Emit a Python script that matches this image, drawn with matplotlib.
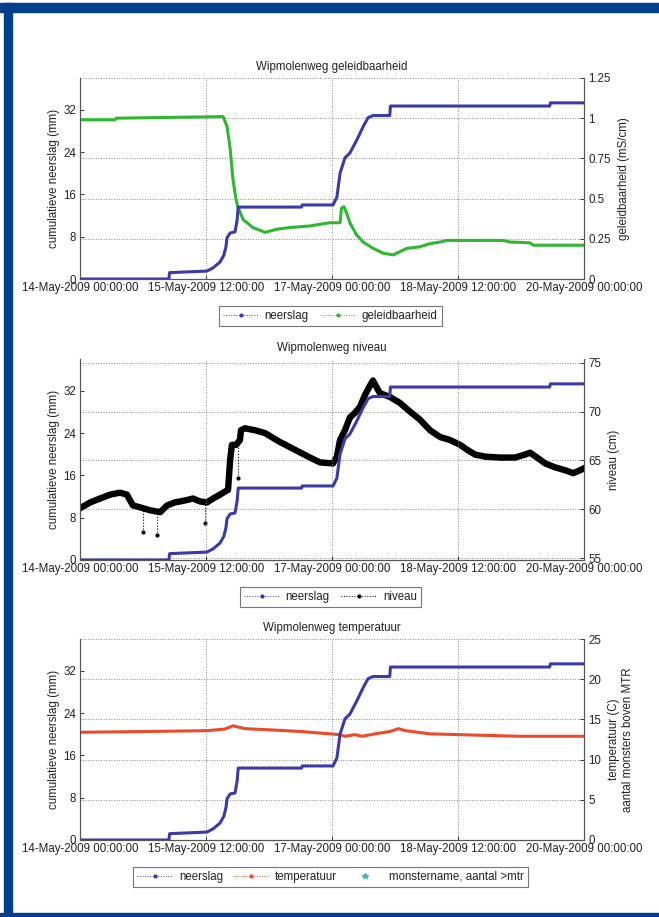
import numpy as np
import pandas as pd
import matplotlib
matplotlib.use('Agg')
import matplotlib.pyplot as plt
import matplotlib.dates as mdates
from matplotlib.lines import Line2D
from matplotlib.patches import Rectangle

FS = 8.3
plt.rcParams['font.family'] = ['Liberation Sans', 'DejaVu Sans']
plt.rcParams['font.size'] = FS
plt.rcParams['text.color'] = '#222222'
plt.rcParams['axes.labelcolor'] = '#222222'

# ---- data (hours after 14-May-2009 00:00:00) ----
rain_h = [0, 25.4, 25.6, 36.3, 38.0, 40.0, 41.1, 41.7, 42.0, 42.9, 44.3, 44.9, 45.2,
          63.3, 63.5, 72.3, 73.4, 74.3, 75.7, 77.1, 79.1, 80.9, 82.3, 83.7, 88.5,
          88.7, 134.2, 134.4, 144]
rain_mm = [0, 0, 1.2, 1.5, 2.1, 3.2, 4.5, 6.1, 7.8, 8.7, 8.9, 11.2, 13.6,
           13.6, 14.0, 14.0, 15.5, 20.0, 22.9, 23.8, 26.3, 28.8, 30.5, 30.9, 30.9,
           32.7, 32.7, 33.3, 33.3]

cond_h = [0, 10.0, 10.3, 40.9, 42.0, 42.9, 43.7, 44.6, 45.1, 46.6, 49.4, 52.9, 56.3,
          60.0, 65.7, 71.4, 74.3, 74.7, 75.4, 76.2, 77.1, 79.0, 80.9, 83.8, 86.7,
          89.5, 91.4, 93.3, 97.1, 100.0, 102.9, 104.8, 120.9, 122.9, 128.6, 129.5, 144]
cond_ms = [0.99, 0.99, 1.0, 1.01, 0.95, 0.81, 0.62, 0.49, 0.45, 0.37, 0.32, 0.29, 0.31,
           0.32, 0.33, 0.35, 0.35, 0.44, 0.45, 0.41, 0.35, 0.275, 0.23, 0.19, 0.16,
           0.15, 0.17, 0.19, 0.20, 0.22, 0.23, 0.24, 0.24, 0.23, 0.225, 0.21, 0.21]

level_h = [0, 2.9, 5.7, 8.6, 11.4, 13.4, 15.1, 17.1, 20.0, 22.9, 24.9, 27.1, 30.0,
           32.3, 34.3, 36.3, 38.0, 40.0, 42.3, 42.9, 43.4, 44.6, 45.7, 46.0, 47.1,
           50.0, 52.9, 57.1, 61.4, 65.7, 68.6, 72.3, 73.4, 74.3, 75.7, 77.1, 78.6,
           80.0, 81.4, 82.9, 83.7, 84.9, 85.7, 88.6, 91.4, 94.3, 97.1, 100.0, 102.9,
           105.7, 108.6, 110.6, 112.9, 115.7, 120.0, 124.3, 127.1, 128.6, 130.6,
           132.9, 135.7, 138.6, 140.9, 142.9, 144]
level_cm = [60.1, 60.7, 61.1, 61.5, 61.7, 61.5, 60.4, 60.2, 59.9, 59.7, 60.4, 60.7, 60.9,
            61.1, 60.8, 60.7, 61.1, 61.5, 62.0, 65.1, 66.6, 66.6, 67.1, 68.1, 68.3,
            68.1, 67.8, 66.9, 66.1, 65.3, 64.8, 64.7, 65.4, 67.1, 68.1, 69.4, 69.9,
            70.5, 71.7, 72.7, 73.2, 72.4, 71.9, 71.5, 70.9, 70.0, 69.2, 68.1, 67.4,
            67.1, 66.6, 66.1, 65.6, 65.4, 65.3, 65.3, 65.6, 65.8, 65.3,
            64.7, 64.3, 64.0, 63.7, 64.0, 64.2]
# single outlying samples of the level series
spike_h = [18.0, 22.0, 35.7, 45.1]
spike_base = [60.2, 59.8, 60.8, 66.8]
spike_low = [57.7, 57.4, 58.6, 63.2]

temp_h = [0, 20.0, 36.3, 41.4, 43.7, 45.7, 47.1, 54.3, 62.9, 71.4, 74.3, 75.7, 77.1,
          78.6, 80.6, 84.3, 88.6, 91.0, 93.0, 100.0, 108.6, 117.1, 125.7, 144]
temp_c = [13.4, 13.5, 13.6, 13.8, 14.2, 14.0, 13.85, 13.7, 13.5, 13.2, 13.1, 12.9, 13.0,
          13.1, 12.9, 13.2, 13.5, 13.85, 13.6, 13.2, 13.1, 13.0, 12.9, 12.9]

tick_h = [0, 36, 72, 108, 144]

BLUE = '#3a3aa8'
GREEN = '#2fb82f'
RED = '#ec4a2a'
CYAN = '#35b8b8'
FRAME = '#003f8c'

start = pd.Timestamp('2009-05-14 00:00:00')


def to_time(hours):
    return start + pd.to_timedelta(np.asarray(hours, dtype=float), unit='h')


fig = plt.figure(figsize=(6.59, 9.17), dpi=100)

# blue page frame
for x0, y0, w, h in [(0, 1 - 12 / 917, 1, 9 / 917),
                     (4 / 659, 0, 8 / 659, 1 - 3 / 917),
                     (0, 0, 1, 4 / 917)]:
    fig.patches.append(Rectangle((x0, y0), w, h, transform=fig.transFigure,
                                 color=FRAME, zorder=0))

L, W, H = 80 / 659, 504 / 659, 201 / 917
bottoms = [1 - 279 / 917, 1 - 560 / 917, 1 - 840 / 917]


def make_axes(bottom, title, rlabel, rlim, rticks, rticklabels):
    ax = fig.add_axes([L, bottom, W, H])
    ax2 = ax.twinx()
    ax.set_zorder(ax2.get_zorder() + 1)
    ax.patch.set_visible(False)
    for a in (ax, ax2):
        a.spines['top'].set_visible(False)
        for s in a.spines.values():
            s.set_color('#555555')
            s.set_linewidth(0.8)
        a.tick_params(direction='in', length=3, width=0.6, colors='#222222',
                      labelsize=FS, pad=3)
    ax.set_xlim(to_time(0), to_time(144))
    ax.xaxis.set_major_locator(mdates.ticker.FixedLocator(mdates.date2num(to_time(tick_h))))
    ax.xaxis.set_major_formatter(mdates.DateFormatter('%d-%b-%Y %H:%M:%S'))
    ax.tick_params(axis='x', pad=2)
    ax.set_ylim(0, 38)
    ax.set_yticks([0, 8, 16, 24, 32])
    ax.set_ylabel('cumulatieve neerslag (mm)', labelpad=2)
    ax.grid(axis='x', linestyle=':', color='#888888', linewidth=0.7)
    ax2.set_ylim(*rlim)
    ax2.set_yticks(rticks)
    ax2.set_yticklabels(rticklabels)
    ax2.grid(axis='y', linestyle=':', color='#888888', linewidth=0.7)
    ax2.set_ylabel(rlabel, labelpad=5)
    ax.set_title(title, fontsize=FS, pad=6)
    return ax, ax2


def legend_for(ax, handles, spacing):
    leg = ax.legend(handles=handles, loc='upper center', bbox_to_anchor=(0.497, -0.105),
                    ncol=len(handles), frameon=True, fancybox=False, edgecolor='#555555',
                    handlelength=3.0, columnspacing=spacing, handletextpad=0.6,
                    borderpad=0.35, fontsize=FS)
    leg.get_frame().set_linewidth(0.8)


def rain_handle():
    return Line2D([], [], color=BLUE, ls=':', lw=0.7, marker='.', ms=4, label='neerslag')


# --- panel 1: geleidbaarheid ---
ax, ax2 = make_axes(bottoms[0], 'Wipmolenweg geleidbaarheid', 'geleidbaarheid (mS/cm)',
                    (0, 1.25), [0, 0.25, 0.5, 0.75, 1, 1.25],
                    ['0', '0.25', '0.5', '0.75', '1', '1.25'])
ax2.plot(to_time(cond_h), cond_ms, color=GREEN, lw=2.2)
ax.plot(to_time(rain_h), rain_mm, color=BLUE, lw=2.2)
legend_for(ax, [rain_handle(),
                Line2D([], [], color=GREEN, ls=':', lw=0.7, marker='.', ms=4,
                       label='geleidbaarheid')], 1.0)

# --- panel 2: niveau ---
ax, ax2 = make_axes(bottoms[1], 'Wipmolenweg niveau', 'niveau (cm)',
                    (54.8, 75.4), [55, 60, 65, 70, 75], ['55', '60', '65', '70', '75'])
ax2.plot(to_time(level_h), level_cm, color='black', lw=4.6, marker='.', ms=4,
         solid_joinstyle='round')
ax2.vlines(to_time(spike_h), spike_low, spike_base, colors='black', linestyles=':', lw=0.8)
ax2.plot(to_time(spike_h), spike_low, ls='none', marker='.', ms=4, color='black')
ax.plot(to_time(rain_h), rain_mm, color=BLUE, lw=2.2)
legend_for(ax, [rain_handle(),
                Line2D([], [], color='black', ls=':', lw=0.7, marker='.', ms=4,
                       label='niveau')], 1.0)

# --- panel 3: temperatuur ---
ax, ax2 = make_axes(bottoms[2], 'Wipmolenweg temperatuur',
                    'temperatuur (C)\naantal monsters boven MTR',
                    (0, 25), [0, 5, 10, 15, 20, 25], ['0', '5', '10', '15', '20', '25'])
ax2.plot(to_time(temp_h), temp_c, color=RED, lw=2.2)
ax.plot(to_time(rain_h), rain_mm, color=BLUE, lw=2.2)
legend_for(ax, [rain_handle(),
                Line2D([], [], color=RED, ls=':', lw=0.7, marker='.', ms=4,
                       label='temperatuur'),
                Line2D([], [], color=CYAN, ls='none', marker='*', ms=4,
                       label='monstername, aantal >mtr')], 0.9)

fig.savefig('out.png', dpi=100)
